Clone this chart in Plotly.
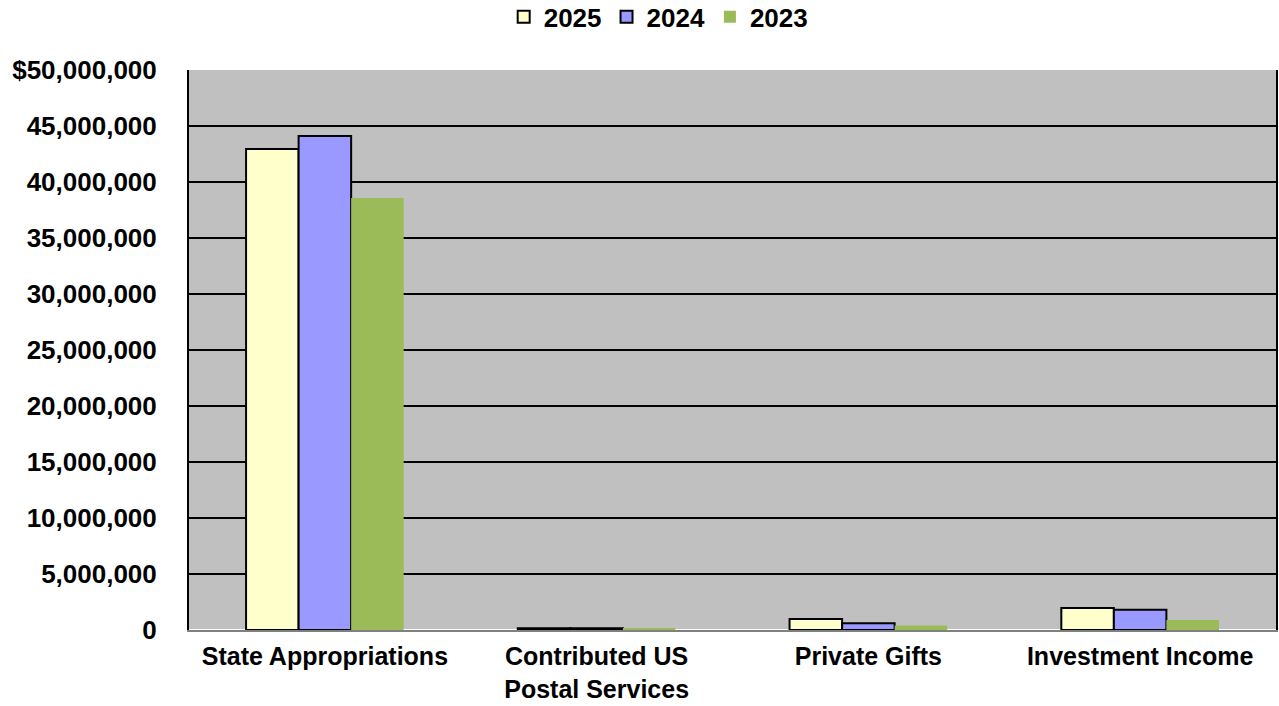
import plotly.graph_objects as go

categories = ["State Appropriations", "Contributed US<br>Postal Services", "Private Gifts", "Investment Income"]
v2025 = [42950000, 150000, 980000, 1960000]
v2024 = [44100000, 150000, 600000, 1800000]
v2023 = [38570000, 100000, 400000, 900000]
tick_vals = [0, 5000000, 10000000, 15000000, 20000000, 25000000, 30000000, 35000000, 40000000, 45000000, 50000000]
tick_text = ["0", "5,000,000", "10,000,000", "15,000,000", "20,000,000", "25,000,000", "30,000,000",
             "35,000,000", "40,000,000", "45,000,000", "$50,000,000"]

FONT = "Liberation Sans, Arial"

fig = go.Figure()
fig.add_trace(go.Bar(name="2025", x=categories, y=v2025, marker=dict(color="#FFFFCC", line=dict(color="black", width=2))))
fig.add_trace(go.Bar(name="2024", x=categories, y=v2024, marker=dict(color="#9999FF", line=dict(color="black", width=2))))
fig.add_trace(go.Bar(name="2023", x=categories, y=v2023, marker=dict(color="#9BBB59", line=dict(width=0))))

fig.update_layout(
    width=1279, height=706,
    margin=dict(l=189, r=3, t=70, b=76, autoexpand=False),
    paper_bgcolor="white", plot_bgcolor="#C0C0C0",
    barmode="group", bargap=0.42, bargroupgap=0.0,
    font=dict(family=FONT, size=25, color="black", weight="bold"),
    legend=dict(orientation="h", x=0.515, xanchor="center", y=0.976, yanchor="middle",
                yref="container", xref="container",
                font=dict(size=26, family=FONT, weight="bold"),
                itemwidth=30, traceorder="normal", tracegroupgap=0),
    showlegend=True,
)
fig.update_xaxes(showline=True, linecolor="#808080", linewidth=2, mirror=False,
                 tickfont=dict(size=25, family=FONT, weight="bold"), ticks="",
                 ticklabelstandoff=3, automargin=False)
fig.update_yaxes(range=[0, 50000000], tickvals=tick_vals, ticktext=tick_text,
                 showgrid=True, gridcolor="black", gridwidth=2,
                 showline=True, linecolor="black", linewidth=2, mirror=True,
                 tickfont=dict(size=26, family=FONT, weight="bold"), ticks="",
                 ticklabelstandoff=25, automargin=False)

fig.write_html("out.html")
